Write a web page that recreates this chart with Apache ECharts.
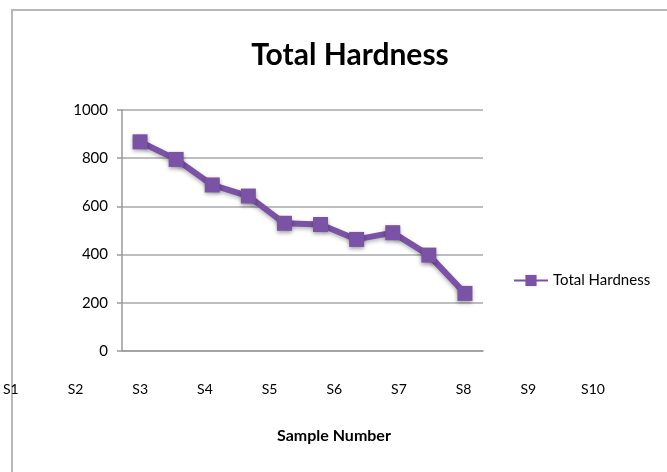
<!DOCTYPE html>
<html>
<head>
<meta charset="utf-8">
<script src="https://cdn.jsdelivr.net/npm/echarts@6/dist/echarts.min.js"></script>
<style>html,body{margin:0;padding:0;background:#fff}#c{width:667px;height:472px}</style>
</head>
<body>
<div id="c"></div>
<script>
const categories = ['S1','S2','S3','S4','S5','S6','S7','S8','S9','S10'];
const hardness = [868, 795, 689, 643, 530, 525, 463, 491, 398, 239];
const yTicks = [0, 200, 400, 600, 800, 1000];

const font = 'Lato, "Open Sans", sans-serif';
const chart = echarts.init(document.getElementById('c'));
chart.setOption({
  animation: false,
  backgroundColor: '#fff',
  graphic: [{
    type: 'rect', shape: { x: 12, y: 10, width: 700, height: 500 },
    style: { fill: 'none', stroke: '#b8b8b8', lineWidth: 2 }, silent: true
  }],
  title: {
    text: 'Total Hardness', left: 345, top: 35, textAlign: 'center',
    textStyle: { fontFamily: font, fontWeight: 'bold', fontSize: 30, color: '#000' }
  },
  legend: {
    data: ['Total Hardness'], orient: 'vertical', left: 508, top: 268,
    itemWidth: 34, itemHeight: 14, itemGap: 4,
    textStyle: { fontFamily: font, fontSize: 15, color: '#000' }
  },
  grid: [
    { left: 122, width: 361, top: 110, height: 241 },
    { left: 5, width: 588, top: 360, height: 18 }
  ],
  xAxis: [
    { type: 'category', gridIndex: 0, data: categories, boundaryGap: true,
      axisLine: { lineStyle: { color: '#9a9a9a', width: 1.5 } },
      axisTick: { show: false }, axisLabel: { show: false } },
    { type: 'category', gridIndex: 1, data: categories, boundaryGap: false,
      axisLine: { show: false }, axisTick: { show: false },
      axisLabel: { fontFamily: font, fontSize: 14, color: '#000', margin: 4, showMinLabel: true, showMaxLabel: true, interval: 0 },
      name: 'Sample Number', nameLocation: 'middle', nameGap: 50,
      nameTextStyle: { fontFamily: font, fontSize: 16, fontWeight: 'bold', color: '#000', padding: [0, 0, 0, 64] } }
  ],
  yAxis: [
    { type: 'value', gridIndex: 0, min: yTicks[0], max: yTicks[yTicks.length - 1], interval: 200,
      axisLine: { show: true, lineStyle: { color: '#9a9a9a', width: 1.5 } },
      axisTick: { show: true, length: 5, lineStyle: { color: '#9a9a9a', width: 1.5 } },
      axisLabel: { fontFamily: font, fontSize: 15, color: '#000', margin: 14, formatter: v => String(v) },
      splitLine: { lineStyle: { color: '#a8a8a8', width: 1.5 } } },
    { type: 'value', gridIndex: 1, show: false }
  ],
  series: [{
    name: 'Total Hardness', type: 'line', xAxisIndex: 0, yAxisIndex: 0,
    data: hardness, symbol: 'rect', symbolSize: 15,
    itemStyle: { color: '#7a52a6', shadowColor: 'rgba(0,0,0,0.35)', shadowBlur: 4, shadowOffsetY: 2 },
    lineStyle: { color: '#7a52a6', width: 6, shadowColor: 'rgba(0,0,0,0.3)', shadowBlur: 4, shadowOffsetY: 2 }
  }]
});
</script>
</body>
</html>
